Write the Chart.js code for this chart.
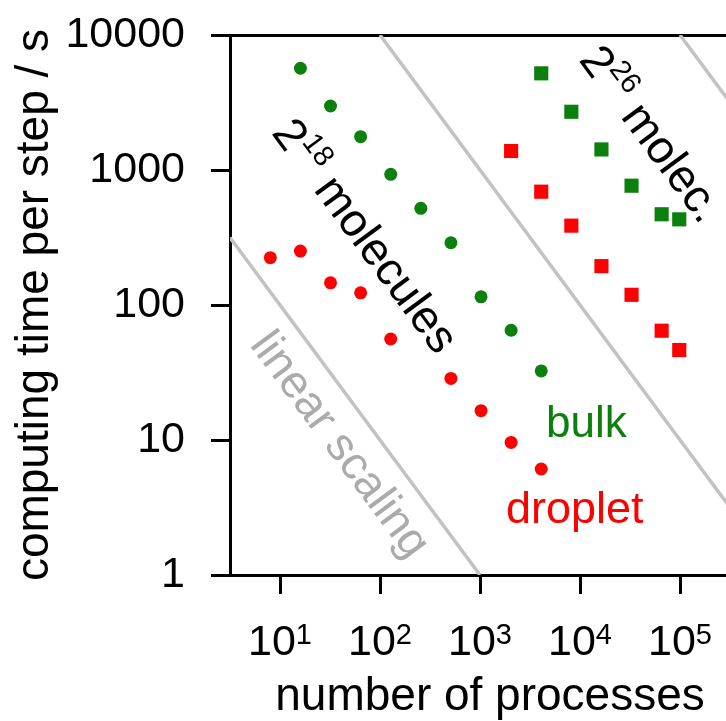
<!DOCTYPE html>
<html lang="en">
<head>
<meta charset="UTF-8">
<title>Computing time per step vs number of processes</title>
<script src="https://cdn.jsdelivr.net/npm/chart.js"></script>
<style>
  html, body { margin: 0; padding: 0; background: #fff; overflow: hidden; }
  /* the figure is cropped on the right, so the canvas is a bit wider than the window */
  .chart-box { position: relative; width: 750px; height: 721px; }
</style>
</head>
<body>
<div class="chart-box"><canvas id="scalingChart"></canvas></div>
<script>
// values (processes, seconds per step)
const procsBulk18 = [16, 32, 64, 128, 256, 512, 1024, 2048, 4096];
const timeBulk18 = [5670, 2980, 1765, 929, 520, 289, 115, 65, 32.5];

const procsDroplet18 = [8, 16, 32, 64, 128, 512, 1024, 2048, 4096];
const timeDroplet18 = [224, 251, 146, 123, 56, 28.6, 16.5, 9.6, 6.1];

const procsBulk26 = [4096, 8192, 16384, 32768, 65536, 98304];
const timeBulk26 = [5200, 2700, 1420, 765, 470, 431];

const procsDroplet26 = [2048, 4096, 8192, 16384, 32768, 65536, 98304];
const timeDroplet26 = [1383, 691, 387, 194, 119, 64.5, 46.4];

// ideal (linear) scaling guides: end points of each grey line
const scalingA = [[3.162, 316.2], [1000, 1]];
const scalingB = [[100, 10000], [501187, 1.995]];
const scalingC = [[100000, 10000], [501187, 1995]];

const xTicks = [10, 100, 1000, 10000, 100000];
const xTickExp = ['1', '2', '3', '4', '5'];
const yTicks = [1, 10, 100, 1000, 10000];

const GREEN = '#0c800c';
const RED = '#ff0000';
const GREY = '#c2c2c2';
const FONT = "'Liberation Sans', Arial, Helvetica, sans-serif";

const toPoints = (xs, ys) => xs.map((x, i) => ({ x: x, y: ys[i] }));
const toLine = (pairs) => pairs.map(p => ({ x: p[0], y: p[1] }));

// text placed in data coordinates; 'tilt' means parallel to the grey guides
const annotations = [
    { at: [8.1, 1880], tilt: true, color: '#000', parts: [
        { text: '2', size: 46 }, { text: '18', size: 29, rise: 19 }, { text: ' molecules', size: 46 } ] },
    { at: [9550, 6530], tilt: true, color: '#000', parts: [
        { text: '2', size: 46 }, { text: '26', size: 29, rise: 19 }, { text: ' molec.', size: 46 } ] },
    { at: [4.9, 50.6], tilt: true, color: '#ababab', parts: [ { text: 'linear scaling', size: 46 } ] },
    { at: [4570, 10.5], tilt: false, color: GREEN, parts: [ { text: 'bulk', size: 44 } ] },
    { at: [1820, 2.43], tilt: false, color: RED, parts: [ { text: 'droplet', size: 45 } ] }
];

function partsWidth(ctx, parts) {
    let w = 0;
    parts.forEach(p => {
        ctx.font = p.size + 'px ' + FONT;
        w += ctx.measureText(p.text).width;
    });
    return w;
}

function drawParts(ctx, x, y, angle, parts, color, centered) {
    ctx.save();
    ctx.translate(x, y);
    ctx.rotate(angle);
    ctx.fillStyle = color;
    ctx.textAlign = 'left';
    ctx.textBaseline = 'alphabetic';
    let cx = centered ? -partsWidth(ctx, parts) / 2 : 0;
    parts.forEach(p => {
        ctx.font = p.size + 'px ' + FONT;
        ctx.fillText(p.text, cx, -(p.rise || 0));
        cx += ctx.measureText(p.text).width;
    });
    ctx.restore();
}

const labelsPlugin = {
    id: 'labelsPlugin',
    afterDraw(chart) {
        const ctx = chart.ctx;
        const xs = chart.scales.x;
        const ys = chart.scales.y;

        // x tick labels as 10^n
        xTicks.forEach((v, i) => {
            const px = xs.getPixelForValue(v);
            drawParts(ctx, px, xs.top + 80, 0, [
                { text: '10', size: 43 }, { text: xTickExp[i], size: 29, rise: 11 }
            ], '#000', true);
        });

        // slope of the guides in pixels
        const dx = xs.getPixelForValue(1000) - xs.getPixelForValue(10);
        const dy = ys.getPixelForValue(10) - ys.getPixelForValue(1000);
        const tiltAngle = Math.atan2(dy, dx);

        annotations.forEach(a => {
            const px = xs.getPixelForValue(a.at[0]);
            const py = ys.getPixelForValue(a.at[1]);
            drawParts(ctx, px, py, a.tilt ? tiltAngle : 0, a.parts, a.color, false);
        });
    }
};

const guide = (pairs) => ({
    type: 'line',
    data: toLine(pairs),
    borderColor: GREY,
    borderWidth: 3.5,
    pointRadius: 0,
    fill: false,
    order: 10
});

const marks = (xs, ys, color, style, radius) => ({
    type: 'scatter',
    data: toPoints(xs, ys),
    backgroundColor: color,
    borderColor: color,
    pointBorderWidth: 0,
    pointStyle: style,
    pointRadius: radius,
    order: 1
});

new Chart(document.getElementById('scalingChart').getContext('2d'), {
    type: 'scatter',
    data: {
        datasets: [
            guide(scalingA),
            guide(scalingB),
            guide(scalingC),
            marks(procsBulk18, timeBulk18, GREEN, 'circle', 6.5),
            marks(procsDroplet18, timeDroplet18, RED, 'circle', 6.5),
            marks(procsBulk26, timeBulk26, GREEN, 'rect', 10),
            marks(procsDroplet26, timeDroplet26, RED, 'rect', 10)
        ]
    },
    options: {
        responsive: true,
        maintainAspectRatio: false,
        animation: false,
        events: [],
        layout: { autoPadding: false, padding: { top: 35, left: 0, right: 0, bottom: 0 } },
        plugins: {
            legend: { display: false },
            tooltip: { enabled: false }
        },
        scales: {
            x: {
                type: 'logarithmic',
                position: 'bottom',
                min: 3.162,
                max: 501187,
                afterBuildTicks: (scale) => { scale.ticks = xTicks.map(v => ({ value: v })); },
                afterFit: (scale) => { scale.height = 146; scale.paddingLeft = 0; scale.paddingRight = 0; },
                ticks: { display: false, autoSkip: false },
                grid: {
                    drawOnChartArea: false,
                    drawTicks: true,
                    tickLength: 19,
                    tickWidth: 3,
                    tickColor: '#000'
                },
                border: { display: true, color: '#000', width: 3 },
                title: {
                    display: true,
                    text: 'number of processes',
                    color: '#000',
                    font: { family: FONT, size: 46, lineHeight: 1.05 },
                    padding: 0
                }
            },
            y: {
                type: 'logarithmic',
                position: 'left',
                min: 1,
                max: 10000,
                afterBuildTicks: (scale) => { scale.ticks = yTicks.map(v => ({ value: v })); },
                afterFit: (scale) => { scale.width = 230; scale.paddingTop = 0; scale.paddingBottom = 0; },
                ticks: {
                    autoSkip: false,
                    color: '#000',
                    padding: 26,
                    font: { family: FONT, size: 43 },
                    callback: (v) => String(v)
                },
                grid: {
                    // only the top line (10000) is drawn across: it closes the frame
                    color: (c) => (c.tick && c.tick.value === 10000) ? '#000' : 'rgba(0,0,0,0)',
                    lineWidth: 3,
                    tickLength: 19,
                    tickWidth: 3,
                    tickColor: '#000'
                },
                border: { display: true, color: '#000', width: 3 },
                title: {
                    display: true,
                    text: 'computing time per step / s',
                    color: '#000',
                    font: { family: FONT, size: 46, lineHeight: 1.05 },
                    padding: { top: 11, bottom: 0 }
                }
            }
        }
    },
    plugins: [labelsPlugin]
});
</script>
</body>
</html>
